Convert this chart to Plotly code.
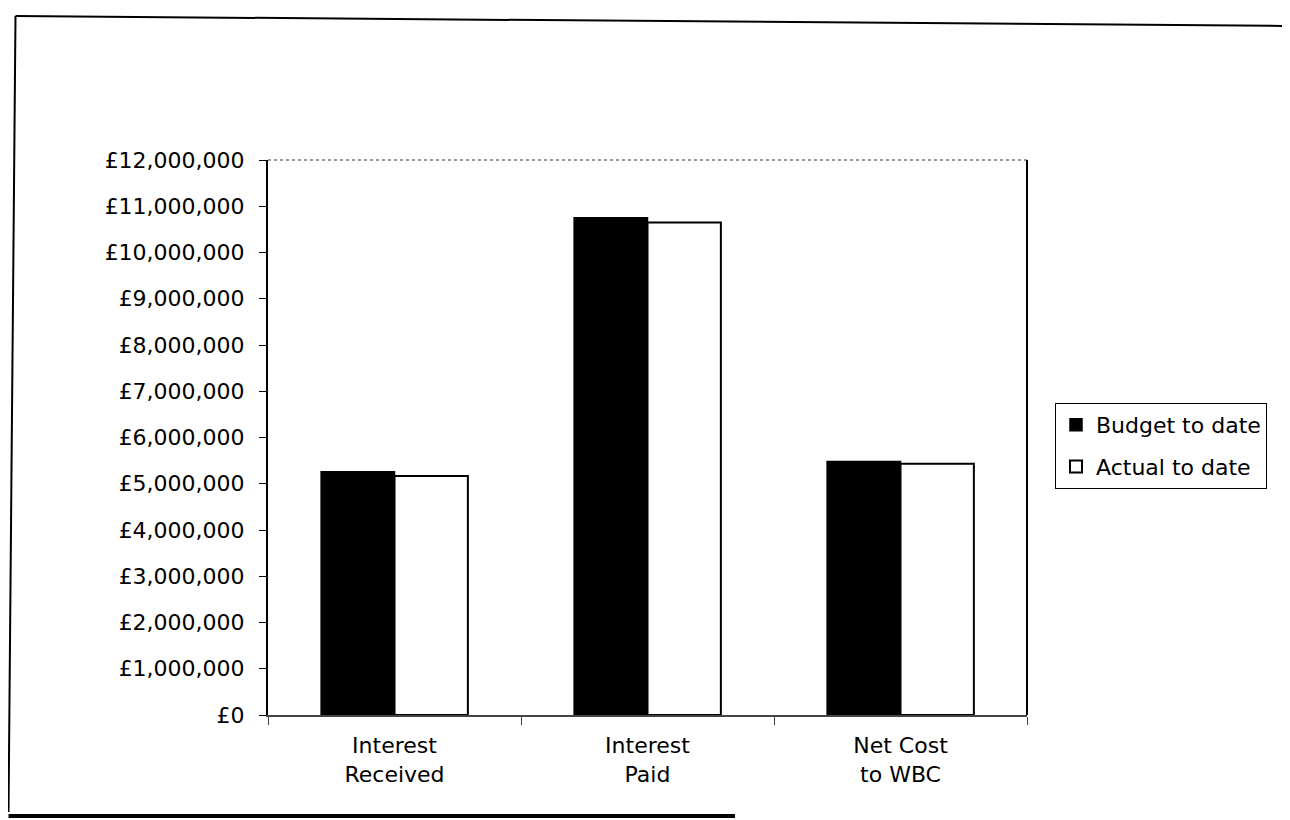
import plotly.graph_objects as go

categories = ["Interest<br>Received", "Interest<br>Paid", "Net Cost<br>to WBC"]
budget_to_date = [5260000, 10750000, 5480000]
actual_to_date = [5170000, 10650000, 5430000]
y_ticks = list(range(0, 12000001, 1000000))

# the page body has an 8px margin, so work in screen pixels and subtract it
OFF = 8
W, H = 1290 - OFF, 820 - OFF
L, R, T, B = 268, 1027, 160, 715  # plot area in screen pixels


def px(x):
    return (x - L) / (R - L)


def py(y):
    return (B - y) / (B - T)


FONT = "DejaVu Sans"

fig = go.Figure()
fig.add_trace(go.Bar(
    name="Budget to date", x=categories, y=budget_to_date, legendgroup="b",
    marker=dict(color="black", line=dict(color="black", width=1.5)),
))
fig.add_trace(go.Bar(
    name="Actual to date", x=categories, y=actual_to_date, legendgroup="a",
    marker=dict(color="white", line=dict(color="black", width=2)),
))

shapes = [
    # plot area top (dotted) and right border
    dict(type="line", xref="paper", yref="paper", x0=0, x1=1, y0=1, y1=1,
         line=dict(color="#777777", width=1.5, dash="dot")),
    dict(type="line", xref="paper", yref="paper", x0=1, x1=1, y0=0, y1=1,
         line=dict(color="black", width=2)),
    # scanned page frame
    dict(type="line", xref="paper", yref="paper", x0=px(15.5), x1=px(1290), y0=py(16), y1=py(26),
         line=dict(color="black", width=2)),
    dict(type="line", xref="paper", yref="paper", x0=px(15.5), x1=px(8.5), y0=py(16), y1=py(812),
         line=dict(color="black", width=2)),
    dict(type="line", xref="paper", yref="paper", x0=px(8.5), x1=px(735), y0=py(816), y1=py(816),
         line=dict(color="black", width=4)),
]

fig.update_layout(
    width=W, height=H,
    margin=dict(l=L - OFF, r=W - (R - OFF), t=T - OFF, b=H - (B - OFF), pad=0),
    paper_bgcolor="white", plot_bgcolor="white",
    barmode="group", bargap=0.42, bargroupgap=0,
    font=dict(family=FONT, size=22, color="black"),
    showlegend=True,
    legend=dict(
        x=px(1055), y=py(403), xanchor="left", yanchor="top",
        bordercolor="black", borderwidth=1, bgcolor="white",
        font=dict(family=FONT, size=22, color="black"),
        itemwidth=30, tracegroupgap=10,
    ),
    shapes=shapes,
    xaxis=dict(
        showline=True, linecolor="#444444", linewidth=2,
        ticks="outside", ticklen=8, tickcolor="#444444", tickson="boundaries",
        showgrid=False, tickfont=dict(family=FONT, size=22, color="black"),
        ticklabelstandoff=10,
        fixedrange=True,
    ),
    yaxis=dict(
        range=[0, 12000000], tickvals=y_ticks,
        ticktext=["£{:,}".format(v) for v in y_ticks],
        showline=True, linecolor="black", linewidth=2,
        ticks="outside", ticklen=7, tickcolor="black",
        showgrid=False, zeroline=False,
        tickfont=dict(family=FONT, size=22, color="black"),
        ticklabelstandoff=10,
        fixedrange=True,
    ),
)

fig.write_html("out.html")
